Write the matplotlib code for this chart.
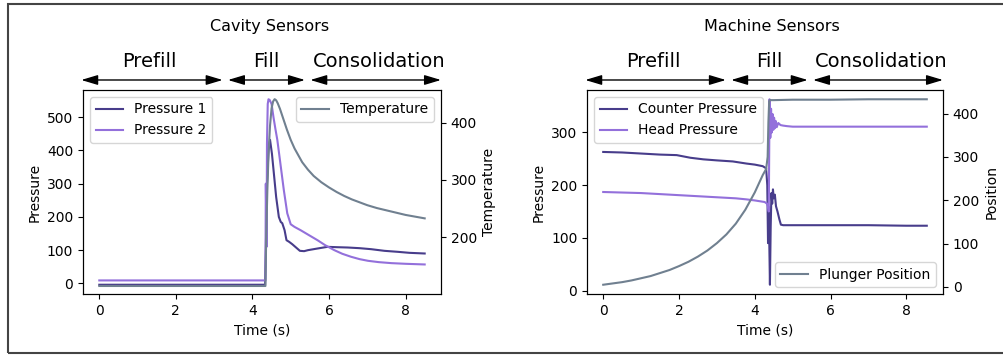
import matplotlib
matplotlib.use("Agg")
import matplotlib.pyplot as plt
from matplotlib.patches import Rectangle

# ---- cavity sensors ----
t_p1 = [0, 4.33, 4.35, 4.38, 4.42, 4.46, 4.51, 4.56, 4.62, 4.69, 4.74, 4.78, 4.84, 4.89,
        4.96, 5.04, 5.14, 5.24, 5.35, 5.45, 5.7, 5.96, 6.2, 6.49, 6.8, 7.1, 7.45, 7.8, 8.1, 8.5]
p1 = [-4, -4, 100, 300, 400, 432, 390, 331, 260, 200, 185, 181, 160, 130,
      125, 118, 108, 98, 97, 100, 105, 110, 109, 108, 106, 103, 98, 95, 92, 90]

t_p2 = [0, 4.34, 4.35, 4.37, 4.38, 4.40, 4.42, 4.45, 4.50, 4.55, 4.60, 4.65, 4.72, 4.82, 4.91,
        5.0, 5.1, 5.26, 5.45, 5.7, 5.9, 6.14, 6.35, 6.58, 6.8, 7.02, 7.3, 7.63, 8.0, 8.5]
p2 = [9, 9, 300, 110, 420, 540, 554, 552, 540, 500, 465, 432, 370, 281, 211,
      178, 170, 160, 147, 130, 115, 100, 89, 80, 73, 68, 64, 61, 59, 57]

t_temp = [0, 4.34, 4.36, 4.39, 4.42, 4.46, 4.50, 4.54, 4.58, 4.62, 4.66, 4.72, 4.80, 4.90,
          5.0, 5.1, 5.2, 5.3, 5.45, 5.6, 5.8, 6.0, 6.2, 6.4, 6.6, 6.8, 7.0, 7.25, 7.5,
          7.75, 8.0, 8.25, 8.5]
temp = [115, 115, 200, 282, 345, 395, 425, 437, 441, 439, 434, 424, 408, 388,
        370, 355, 343, 331, 318, 307, 296, 287, 279, 272, 266, 261, 256, 251, 247,
        243, 239, 236, 233]

# ---- machine sensors ----
t_cp = [0, 0.5, 1.0, 1.5, 1.94, 2.3, 2.64, 3.0, 3.42, 3.78, 4.0, 4.21, 4.3, 4.33, 4.35, 4.37,
        4.39, 4.40, 4.42, 4.44, 4.46, 4.48, 4.50, 4.53, 4.56, 4.60, 4.65, 4.69, 4.75, 5.0,
        6.0, 7.0, 8.0, 8.54]
counter = [263, 262, 260, 258, 257, 252, 249, 247, 245, 241, 239, 236, 232, 200, 90, 150,
           60, 11, 120, 185, 165, 192, 175, 182, 160, 150, 135, 125, 124, 124,
           124, 124, 123, 123]

t_hp = [0, 0.5, 1, 1.5, 2, 2.5, 3, 3.5, 3.78, 4.0, 4.26, 4.32, 4.35, 4.37, 4.39, 4.41, 4.43,
        4.45, 4.47, 4.49, 4.51, 4.53, 4.55, 4.58, 4.62, 4.68, 4.75, 4.85, 5.0, 6.0, 7.0, 8.0, 8.54]
head = [187, 186, 185, 183, 181, 179, 177, 175, 173, 171, 168, 165, 160, 150, 363, 290, 345,
        300, 335, 305, 328, 308, 322, 310, 318, 314, 313, 312, 311, 311, 311, 311, 311]

t_pos = [0, 0.25, 0.5, 0.75, 1, 1.25, 1.5, 1.75, 2, 2.25, 2.5, 2.75, 3, 3.25, 3.5, 3.75,
         4.0, 4.21, 4.3, 4.34, 4.36, 4.38, 4.40, 4.5, 5, 6, 7, 8, 8.54]
plunger = [5, 8, 11, 15, 20, 25, 32, 39, 48, 58, 70, 84, 101, 121, 146, 178,
           218, 258, 272, 300, 380, 428, 431, 431, 432, 432, 433, 433, 433]

phases = ["Prefill", "Fill", "Consolidation"]
phase_x = [0.185, 0.513, 0.827]
arrow_spans = [(-0.005, 0.39), (0.405, 0.62), (0.635, 1.0)]

c1 = "darkslateblue"
c2 = "mediumpurple"
c3 = "slategray"

fig = plt.figure(figsize=(10.04, 3.55), dpi=100)
ax1 = fig.add_axes([0.0827, 0.1718, 0.3565, 0.5747])
ax3 = fig.add_axes([0.5847, 0.1718, 0.3545, 0.5747])

# left panel
ax1.plot(t_p1, p1, color=c1, label="Pressure 1")
ax1.plot(t_p2, p2, color=c2, label="Pressure 2")
ax1.set_ylabel("Pressure")
ax1.set_xlabel("Time (s)")
ax1.legend(loc="upper left")
ax2 = ax1.twinx()
ax2.plot(t_temp, temp, color=c3, label="Temperature")
ax2.set_ylim(101, 457)
ax2.set_ylabel("Temperature")
ax2.legend(loc="upper right")

# right panel
ax3.plot(t_cp, counter, color=c1, label="Counter Pressure")
ax3.plot(t_hp, head, color=c2, label="Head Pressure")
ax3.set_ylabel("Pressure")
ax3.set_xlabel("Time (s)")
ax3.legend(loc="upper left")
ax4 = ax3.twinx()
ax4.plot(t_pos, plunger, color=c3, label="Plunger Position")
ax4.set_ylabel("Position")
ax4.legend(loc="lower right")

for ax, title in [(ax1, "Cavity Sensors"), (ax3, "Machine Sensors")]:
    ax.text(0.52, 1.31, title, transform=ax.transAxes, ha="center", va="center", fontsize=11.5)
    for name, xc, (a, b) in zip(phases, phase_x, arrow_spans):
        ax.text(xc, 1.14, name, transform=ax.transAxes, ha="center", va="center", fontsize=14)
        ax.annotate("", xy=(b, 1.049), xytext=(a, 1.049), xycoords="axes fraction",
                    textcoords="axes fraction",
                    arrowprops=dict(arrowstyle="<|-|>,head_length=1.0,head_width=0.3",
                                    color="black", lw=1, shrinkA=0, shrinkB=0,
                                    mutation_scale=10))

# outer frame
fig.patches.append(Rectangle((8 / 1004, 2 / 355), 1.1, 349 / 355, transform=fig.transFigure,
                             fill=False, edgecolor="#444444", lw=1.5))

fig.savefig("out.png", dpi=100)
